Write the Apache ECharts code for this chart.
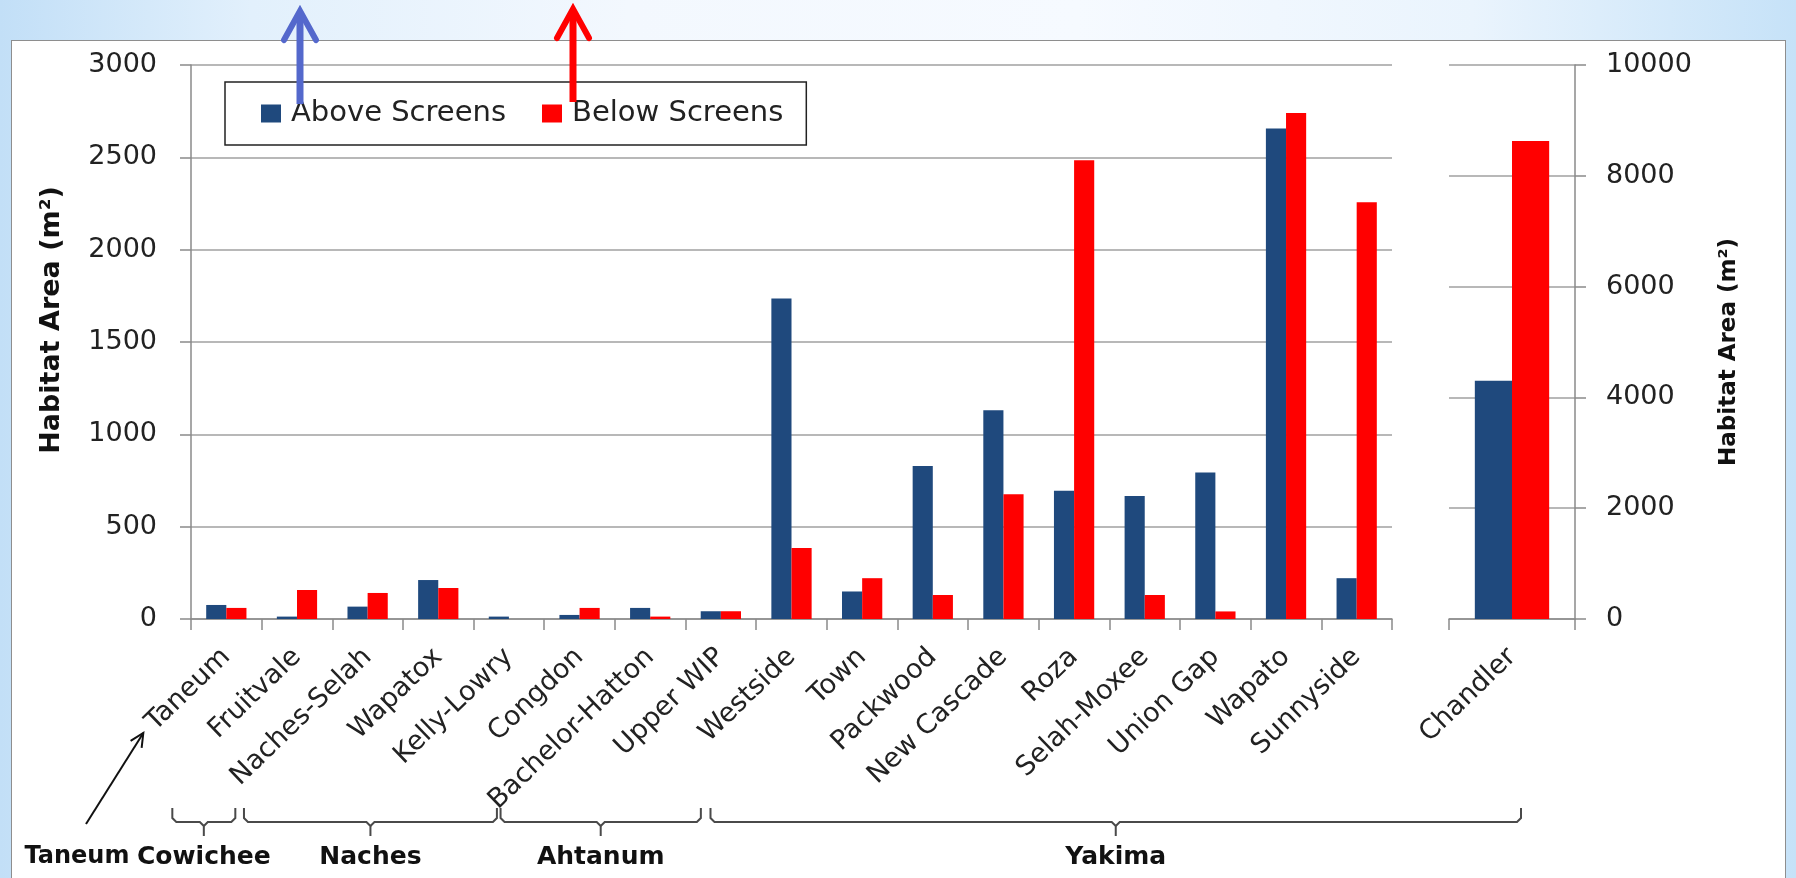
<!DOCTYPE html>
<html>
<head>
<meta charset="utf-8">
<title>Habitat Area Above and Below Screens</title>
<script src="https://cdn.jsdelivr.net/npm/echarts/dist/echarts.min.js"></script>
<style>
  html, body {
    margin: 0; padding: 0; width: 1796px; height: 878px; overflow: hidden;
    background: linear-gradient(90deg, #c2dff7 0%, #e2f0fc 14%, #f3f8fe 35%, #f6faff 60%, #eaf4fd 82%, #c6e2f8 100%);
  }
  #panel {
    position: absolute; left: 11px; top: 40px; width: 1775px; height: 900px;
    background: #ffffff; border: 1.5px solid #8e8e8e; box-sizing: border-box;
  }
  #chart { position: absolute; left: 0; top: 0; width: 1796px; height: 878px; }
</style>
</head>
<body>
<div id="panel"></div>
<div id="chart"></div>
<script>
// Irrigation diversion sites (left panel, left axis)
const sites = ['Taneum', 'Fruitvale', 'Naches-Selah', 'Wapatox', 'Kelly-Lowry', 'Congdon',
  'Bachelor-Hatton', 'Upper WIP', 'Westside', 'Town', 'Packwood', 'New Cascade', 'Roza',
  'Selah-Moxee', 'Union Gap', 'Wapato', 'Sunnyside'];
const aboveScreens = [76, 13, 67, 211, 13, 22, 60, 42, 1735, 149, 829, 1131, 694, 666, 793, 2656, 221];
const belowScreens = [60, 157, 141, 168, 0, 60, 13, 42, 384, 221, 130, 675, 2484, 130, 41, 2740, 2257];

// Large site on its own scale (right panel, right axis)
const largeSites = ['Chandler'];
const aboveScreensLarge = [4300];
const belowScreensLarge = [8630];

// Axis ranges
const leftAxisMax = 3000, leftAxisStep = 500;
const rightAxisMax = 10000, rightAxisStep = 2000;

// Basin groupings shown under the category labels
const basinNames = ['Cowichee', 'Naches', 'Ahtanum', 'Yakima'];
const basinFirstSite = ['Taneum', 'Fruitvale', 'Congdon', 'Westside'];
const basinLastSite = ['Taneum', 'Kelly-Lowry', 'Upper WIP', 'Chandler'];
const calloutSite = 'Taneum';

const FONT = 'DejaVu Sans';
const AXIS_GREY = '#8a8a8a';
const GRID_GREY = '#a0a0a0';
const BLUE = '#1f497d';
const RED = '#ff0000';

const chart = echarts.init(document.getElementById('chart'), null, { renderer: 'canvas' });

function catAxis(gridIndex, data) {
  return {
    type: 'category', gridIndex: gridIndex, data: data,
    axisLine: { show: true, lineStyle: { color: AXIS_GREY, width: 1.5 } },
    axisTick: { show: true, length: 11, lineStyle: { color: AXIS_GREY, width: 1.5 } },
    axisLabel: { interval: 0, rotate: 44, margin: 34, fontSize: 27, color: '#222', fontFamily: FONT }
  };
}
function valAxis(gridIndex, pos, max, step, margin) {
  return {
    type: 'value', gridIndex: gridIndex, position: pos, min: 0, max: max, interval: step,
    axisLine: { show: true, lineStyle: { color: AXIS_GREY, width: 1.5 } },
    axisTick: { show: true, length: 11, lineStyle: { color: AXIS_GREY, width: 1.5 } },
    splitLine: { show: true, lineStyle: { color: GRID_GREY, width: 1.5 } },
    axisLabel: { margin: margin, fontSize: 27, color: '#222', fontFamily: FONT,
      formatter: function (v) { return String(v); } }
  };
}

chart.setOption({
  animation: false,
  backgroundColor: 'transparent',
  grid: [
    { left: 191, top: 65, width: 1201, height: 554 },
    { left: 1449, top: 65, width: 126, height: 554 }
  ],
  legend: {
    left: 225, top: 82,
    data: ['Above Screens', 'Below Screens'],
    icon: 'rect', itemWidth: 20, itemHeight: 18, itemGap: 36,
    padding: [17, 23, 17, 36],
    borderColor: '#222', borderWidth: 1.5,
    textStyle: { fontSize: 29, lineHeight: 28, color: '#222', fontFamily: FONT, padding: [0, 0, 0, 5] }
  },
  xAxis: [catAxis(0, sites), catAxis(1, largeSites)],
  yAxis: [
    valAxis(0, 'left', leftAxisMax, leftAxisStep, 34),
    valAxis(1, 'right', rightAxisMax, rightAxisStep, 31)
  ],
  series: [
    { name: 'Above Screens', type: 'bar', xAxisIndex: 0, yAxisIndex: 0, data: aboveScreens,
      itemStyle: { color: BLUE }, barGap: '0%', barCategoryGap: '43%' },
    { name: 'Below Screens', type: 'bar', xAxisIndex: 0, yAxisIndex: 0, data: belowScreens,
      itemStyle: { color: RED }, barGap: '0%', barCategoryGap: '43%' },
    { name: 'Above Screens', type: 'bar', xAxisIndex: 1, yAxisIndex: 1, data: aboveScreensLarge,
      itemStyle: { color: BLUE }, barGap: '0%', barCategoryGap: '41%' },
    { name: 'Below Screens', type: 'bar', xAxisIndex: 1, yAxisIndex: 1, data: belowScreensLarge,
      itemStyle: { color: RED }, barGap: '0%', barCategoryGap: '41%' }
  ]
});

// Pixel x of a site's category centre, whichever panel it lives in
function siteX(name) {
  const inLeft = sites.indexOf(name) >= 0;
  return chart.convertToPixel({ xAxisIndex: inLeft ? 0 : 1 }, name);
}

const graphics = [];

// Axis titles
function axisTitle(x, y, size) {
  graphics.push({
    type: 'text', x: x, y: y, rotation: Math.PI / 2, z: 10,
    style: { text: 'Habitat Area (m²)', fontSize: size, fontWeight: 'bold', fontFamily: FONT,
      fill: '#111', align: 'center', verticalAlign: 'middle' }
  });
}
axisTitle(52, 320, 27);
axisTitle(1729, 352, 23);

// Curly brackets grouping sites by basin
const padLeft = [54, 53, 79, 81];
const padRight = [9, -12, -20, 9];
const yTop = 808, yLine = 822, yTip = 836;
basinNames.forEach(function (name, i) {
  const x0 = siteX(basinFirstSite[i]) - padLeft[i];
  const x1 = siteX(basinLastSite[i]) + padRight[i];
  const xm = (x0 + x1) / 2;
  const ls = { stroke: '#4a4a4a', lineWidth: 2, fill: null };
  graphics.push({ type: 'polyline', z: 10, style: ls,
    shape: { points: [[x0, yTop], [x0, yLine - 4], [x0 + 4, yLine], [xm - 4, yLine], [xm, yLine + 4], [xm, yTip]] } });
  graphics.push({ type: 'polyline', z: 10, style: ls,
    shape: { points: [[xm, yLine + 4], [xm + 4, yLine], [x1 - 4, yLine], [x1, yLine - 4], [x1, yTop]] } });
  graphics.push({ type: 'text', x: xm, y: 857, z: 10,
    style: { text: name, fontSize: 25, fontWeight: 'bold', fontFamily: FONT, fill: '#111',
      align: 'center', verticalAlign: 'middle' } });
});

// Callout naming the first site's basin, with a pointer to its label
const cx = siteX(calloutSite);
graphics.push({ type: 'text', x: 77, y: 857, z: 10,
  style: { text: calloutSite, fontSize: 24, fontWeight: 'bold', fontFamily: FONT, fill: '#111',
    align: 'center', verticalAlign: 'middle' } });
const ax0 = [86, 824], ax1 = [cx - 83, 733];
const ang = Math.atan2(ax1[1] - ax0[1], ax1[0] - ax0[0]);
const hl = 15, hw = 0.45;
graphics.push({ type: 'line', z: 10, shape: { x1: ax0[0], y1: ax0[1], x2: ax1[0], y2: ax1[1] },
  style: { stroke: '#111', lineWidth: 2 } });
graphics.push({ type: 'polyline', z: 10, style: { stroke: '#111', lineWidth: 2, fill: null },
  shape: { points: [
    [ax1[0] - hl * Math.cos(ang - hw), ax1[1] - hl * Math.sin(ang - hw)],
    ax1,
    [ax1[0] - hl * Math.cos(ang + hw), ax1[1] - hl * Math.sin(ang + hw)]
  ] } });

// Upward arrows marking the two legend entries
function upArrow(x, tipY, bottomY, color) {
  graphics.push({ type: 'line', z: 20, shape: { x1: x, y1: tipY + 4, x2: x, y2: bottomY },
    style: { stroke: color, lineWidth: 7 } });
  graphics.push({ type: 'polyline', z: 20,
    shape: { points: [[x - 16, tipY + 31], [x, tipY + 2], [x + 16, tipY + 31]] },
    style: { stroke: color, lineWidth: 6, fill: null, lineJoin: 'miter', lineCap: 'round' } });
}
upArrow(300, 9, 104, '#5468cc');
upArrow(573, 7, 102, '#ff0000');

chart.setOption({ graphic: graphics });
</script>
</body>
</html>
